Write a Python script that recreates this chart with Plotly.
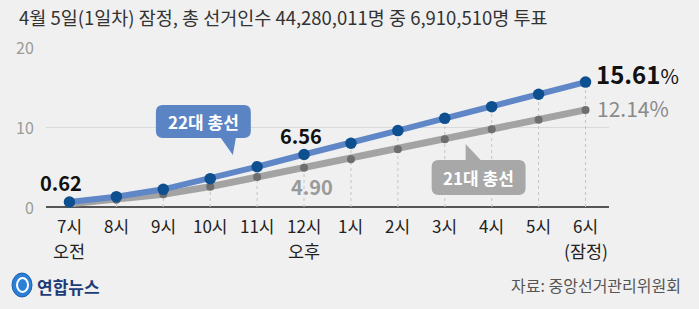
import plotly.graph_objects as go

hours = ["7시", "8시", "9시", "10시", "11시", "12시", "1시", "2시", "3시", "4시", "5시", "6시"]
sub_labels = ["오전", "", "", "", "", "오후", "", "", "", "", "", "(잠정)"]
v22 = [0.62, 1.29, 2.21, 3.54, 5.03, 6.56, 7.97, 9.55, 11.08, 12.54, 14.09, 15.61]
v21 = [0.40, 0.90, 1.58, 2.54, 3.75, 4.90, 5.96, 7.21, 8.46, 9.71, 10.91, 12.14]
y_ticks = [0, 10, 20]

W, H = 699, 309
L, R, T, B = 46, 609.5, 47, 207  # plot area in pixels
FONT = "Noto Sans CJK KR"
BG = "#f0f0f0"
BLUE_LINE = "#5f86c6"
BLUE_DOT = "#0d4f8f"
GRAY_LINE = "#a3a3a3"
GRAY_DOT = "#6e6e6e"


def px(x):
    return (x - L) / (R - L)


def py(y):
    return (B - y) / (B - T)


xs = list(range(len(hours)))

fig = go.Figure()

# drop lines
dx, dy = [], []
for i, v in zip(xs, v22):
    dx += [i, i, None]
    dy += [0, v, None]
fig.add_trace(go.Scatter(x=dx, y=dy, mode="lines", hoverinfo="skip",
                         line=dict(color="#c4c4c4", width=1, dash="dot")))

fig.add_trace(go.Scatter(x=xs, y=v21, mode="lines+markers", cliponaxis=False,
                         line=dict(color=GRAY_LINE, width=7),
                         marker=dict(color=GRAY_DOT, size=8)))
fig.add_trace(go.Scatter(x=xs, y=v22, mode="lines+markers", cliponaxis=False,
                         line=dict(color=BLUE_LINE, width=6),
                         marker=dict(color=BLUE_DOT, size=11.5)))

ann = []


def A(**kw):
    kw.setdefault("showarrow", False)
    kw.setdefault("xanchor", "center")
    kw.setdefault("yanchor", "middle")
    ann.append(kw)


# title
A(x=px(17), y=py(17), xref="paper", yref="paper", xanchor="left",
  text="4월 5일(1일차) 잠정, 총 선거인수 44,280,011명 중 6,910,510명 투표",
  font=dict(family=FONT, size=18.5, color="#333333"))
# y tick labels
for t in y_ticks:
    A(x=px(36), y=t, xref="paper", yref="y", xanchor="right",
      text=str(t), font=dict(family=FONT, size=16, color="#9a9a9a"))
# x tick labels
for i, (h, s) in enumerate(zip(hours, sub_labels)):
    A(x=i, y=py(225), xref="x", yref="paper",
      text=h, font=dict(family=FONT, size=17, color="#222222"))
    if s:
        A(x=i, y=py(250), xref="x", yref="paper",
          text=s, font=dict(family=FONT, size=17.5, color="#222222"))

# value labels
A(x=0, y=v22[0], xref="x", yref="y", xshift=-8, yshift=20,
  text=f"<b>{v22[0]:.2f}</b>", font=dict(family=FONT, size=20, color="#111111"))
A(x=5, y=v22[5], xref="x", yref="y", xshift=-3, yshift=19,
  text=f"<b>{v22[5]:.2f}</b>", font=dict(family=FONT, size=20, color="#111111"))
A(x=5, y=v21[5], xref="x", yref="y", xshift=8, yshift=-19,
  text=f"<b>{v21[5]:.2f}</b>", font=dict(family=FONT, size=20, color="#9a9a9a"))
A(x=11, y=v22[11], xref="x", yref="y", xshift=8, yshift=9, xanchor="left",
  text=f"<b>{v22[11]:.2f}</b><span style='font-size:20px'>%</span>",
  font=dict(family=FONT, size=24, color="#111111"))
A(x=11, y=v21[11], xref="x", yref="y", xshift=9, yshift=2, xanchor="left",
  text=f"{v21[11]:.2f}%", font=dict(family=FONT, size=21, color="#8a8a8a"))


def rbox(x0, y0, x1, y1, r, tail=None):
    def P(x, y):
        return f"{px(x)},{py(y)}"
    d = f"M{P(x0 + r, y0)}"
    if tail and tail[0] == "top":
        _, a, b, tx, ty = tail
        d += f" L{P(a, y0)} L{P(tx, ty)} L{P(b, y0)}"
    d += f" L{P(x1 - r, y0)} Q{P(x1, y0)} {P(x1, y0 + r)} L{P(x1, y1 - r)} Q{P(x1, y1)} {P(x1 - r, y1)}"
    if tail and tail[0] == "bottom":
        _, a, b, tx, ty = tail
        d += f" L{P(b, y1)} L{P(tx, ty)} L{P(a, y1)}"
    d += f" L{P(x0 + r, y1)} Q{P(x0, y1)} {P(x0, y1 - r)} L{P(x0, y0 + r)} Q{P(x0, y0)} {P(x0 + r, y0)} Z"
    return d


shapes = [
    dict(type="path", xref="paper", yref="paper", layer="above",
         path=rbox(156, 105, 251, 138, 7, ("bottom", 221, 236, 233, 155)),
         fillcolor="#5b84c4", line=dict(width=0)),
    dict(type="path", xref="paper", yref="paper", layer="above",
         path=rbox(432, 160, 526, 195, 7, ("top", 466, 481, 466, 144)),
         fillcolor="#a8a8a8", line=dict(width=0)),
    # logo
    dict(type="circle", xref="paper", yref="paper",
         x0=px(12), x1=px(32), y0=py(297), y1=py(273),
         fillcolor="#2b7fd6", line=dict(color="#1a5fae", width=1)),
    dict(type="circle", xref="paper", yref="paper",
         x0=px(17), x1=px(28), y0=py(292), y1=py(278),
         fillcolor="rgba(0,0,0,0)", line=dict(color="white", width=2)),
]

A(x=px(203.5), y=py(121.5), xref="paper", yref="paper",
  text="<b>22대 총선</b>", font=dict(family=FONT, size=17, color="white"))
A(x=px(479), y=py(177.5), xref="paper", yref="paper",
  text="<b>21대 총선</b>", font=dict(family=FONT, size=17, color="white"))
A(x=px(35), y=py(286), xref="paper", yref="paper", xanchor="left",
  text="<b>연합뉴스</b>", font=dict(family=FONT, size=17, color="#1c3c78"))
A(x=px(684), y=py(285), xref="paper", yref="paper", xanchor="right",
  text="자료: 중앙선거관리위원회", font=dict(family=FONT, size=16, color="#555555"))

fig.update_layout(
    width=W, height=H,
    margin=dict(l=L, r=W - R, t=T, b=H - B),
    paper_bgcolor=BG, plot_bgcolor=BG,
    showlegend=False,
    xaxis=dict(range=[-0.5, 11.5], showgrid=False, zeroline=False, showticklabels=False,
               showline=False, fixedrange=True),
    yaxis=dict(range=[0, 20], tickvals=y_ticks, showticklabels=False, gridcolor="#dadada",
               gridwidth=1, zeroline=True, zerolinecolor="#555555", zerolinewidth=1.5,
               showline=False, fixedrange=True),
    annotations=ann,
    shapes=shapes,
)

fig.write_html("out.html", config={"displayModeBar": False})
